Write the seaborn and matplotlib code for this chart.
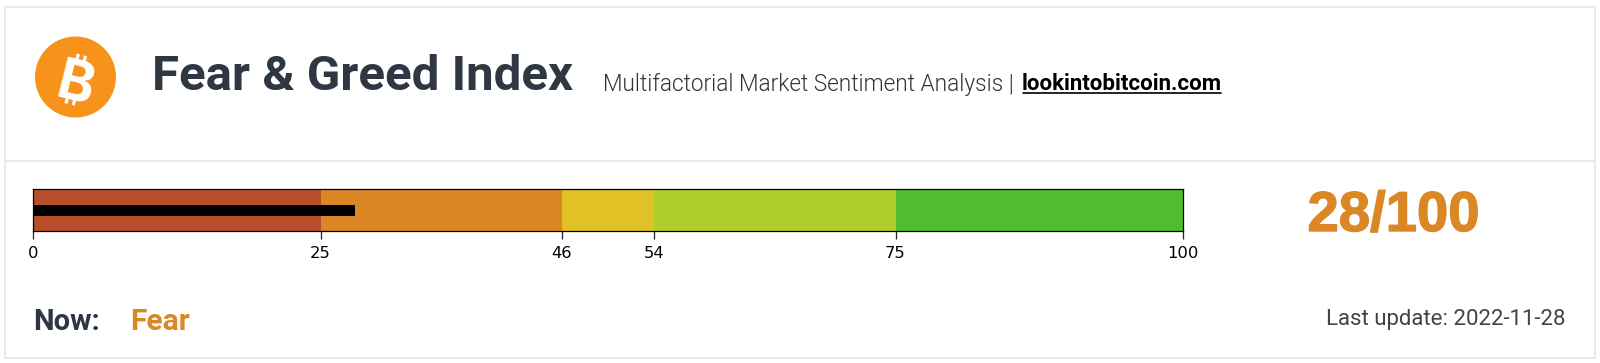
import matplotlib
matplotlib.use("Agg")
import matplotlib.pyplot as plt
import matplotlib.patheffects as pe
from matplotlib.lines import Line2D
from matplotlib.patches import Ellipse, Rectangle
import seaborn as sns

# zones of the gauge
zone_ends = [25, 46, 54, 75, 100]
zone_colors = ["#b84e2c", "#dc8725", "#e0c226", "#b0cf2a", "#4fbd2d"]
tick_values = [0, 25, 46, 54, 75, 100]
score = 28

title = "Fear & Greed Index"
subtitle = "Multifactorial Market Sentiment Analysis |"
link = "lookintobitcoin.com"
score_label = "28/100"
now_label = "Now:"
now_value = "Fear"
updated = "Last update: 2022-11-28"

W, H = 1600, 363
sns.set_theme(style="white")
plt.rcParams['font.family'] = ['Roboto', 'DejaVu Sans']

fig = plt.figure(figsize=(W / 100, H / 100), dpi=100, facecolor="white")


def fx(px):
    return px / W


def fy(px):
    return 1 - px / H


# gauge axes, pixel box
ax = fig.add_axes([fx(33), fy(231.5), fx(1183 - 33), (231.5 - 189.5) / H])

# biggest first so each zone covers the part of the previous one it overlaps
for end, col in reversed(list(zip(zone_ends, zone_colors))):
    sns.barplot(x=[end], y=[""], orient="h", color=col, saturation=1,
                width=1, linewidth=0, ax=ax)
sns.barplot(x=[score], y=[""], orient="h", color="black", saturation=1,
            width=0.26, linewidth=0, ax=ax)

ax.set_xlim(0, 100)
ax.set_ylim(0.5, -0.5)
ax.set_xticks(tick_values)
ax.set_xticklabels([str(t) for t in tick_values], fontsize=11.8,
                   family="DejaVu Sans", color="black")
ax.tick_params(axis="x", bottom=True, length=5.5, width=0.9, color="#222222", pad=5)
ax.tick_params(axis="y", left=False, labelleft=False)
ax.set_xlabel("")
ax.set_ylabel("")
for s in ax.spines.values():
    s.set_visible(True)
    s.set_color("black")
    s.set_linewidth(0.9)

# card outline
line_col = "#e9ebeb"
fig.add_artist(Rectangle((fx(4.5), fy(357.5)), fx(1595 - 4.5), (357.5 - 6.5) / H,
                         transform=fig.transFigure, fill=False,
                         edgecolor=line_col, linewidth=1.5))
fig.add_artist(Line2D([fx(4.5), fx(1595)], [fy(161), fy(161)], color=line_col, linewidth=1.5))

# bitcoin logo
fig.add_artist(Ellipse((fx(75.5), fy(77)), 81 / W, 81 / H, transform=fig.transFigure,
                       facecolor="#f7931a", edgecolor="none"))
fig.text(fx(75.5), fy(77), "\u20bf", color="white", fontsize=40, fontweight="bold",
         family=["Inter", "Noto Sans", "Open Sans", "Lato", "Liberation Sans"],
         rotation=-14, ha="center", va="center_baseline")

# header
dark = "#2f3742"
fig.text(fx(152), fy(90), title, color=dark, fontsize=35.5, fontweight="bold", va="baseline")
fig.text(fx(603), fy(90.5), subtitle, color="#333333", fontsize=16.3, fontweight=300, va="baseline")
fig.text(fx(1022), fy(90.5), link, color="black", fontsize=16, fontweight="bold", va="baseline")
fig.add_artist(Line2D([fx(1022.5), fx(1221)], [fy(93), fy(93)], color="black", linewidth=1.2))

# score and status
orange = "#dc8725"
fig.text(fx(1393.5), fy(231), score_label, color=orange, fontsize=40.5, fontweight="bold",
         family="Liberation Sans", ha="center", va="baseline",
         path_effects=[pe.withStroke(linewidth=1, foreground=orange)])
fig.text(fx(33.5), fy(330.5), now_label, color=dark, fontsize=21, fontweight="bold", va="baseline")
fig.text(fx(130.5), fy(330.5), now_value, color=orange, fontsize=21.6, fontweight="bold", va="baseline")
fig.text(fx(1566), fy(325), updated, color="#444444", fontsize=16, ha="right", va="baseline")

fig.savefig("out.png", dpi=100)
